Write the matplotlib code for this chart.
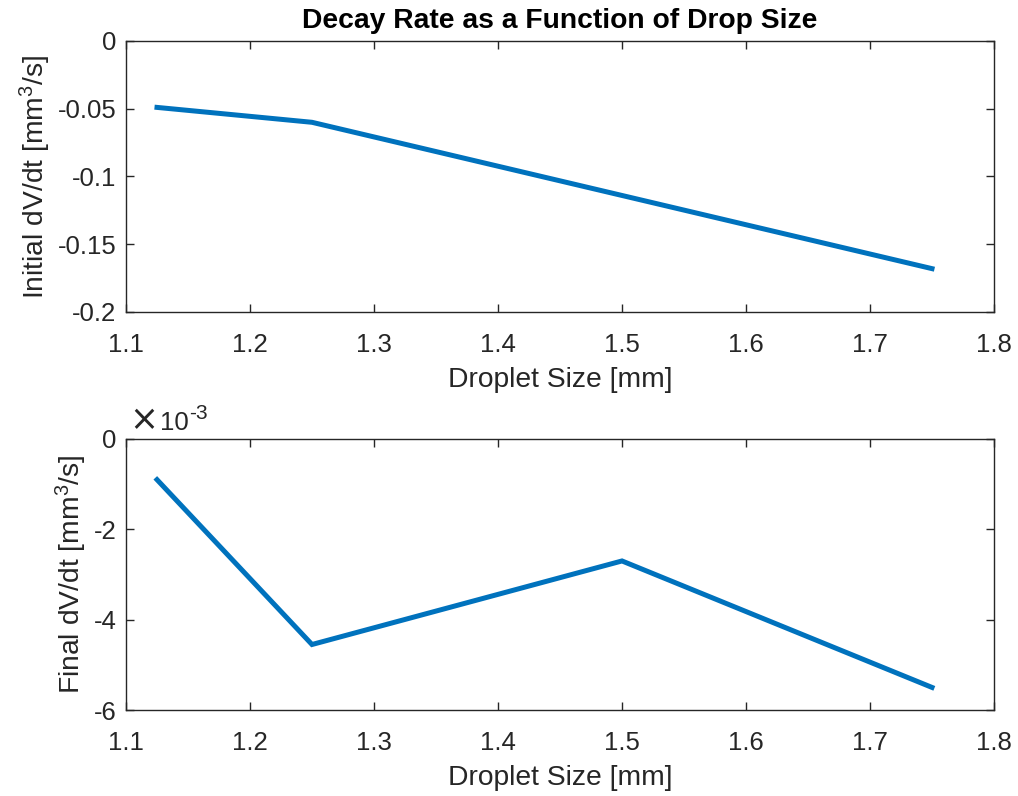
import matplotlib
matplotlib.use("Agg")
import matplotlib.pyplot as plt
from matplotlib.ticker import FuncFormatter

plt.rcParams["font.family"] = ["Liberation Sans", "DejaVu Sans"]
plt.rcParams["mathtext.fontset"] = "custom"
plt.rcParams["mathtext.rm"] = "Liberation Sans"
plt.rcParams["mathtext.it"] = "Liberation Sans:italic"
plt.rcParams["mathtext.bf"] = "Liberation Sans:bold"
plt.rcParams["axes.unicode_minus"] = False

# Droplet sizes and measured volume decay rates
droplet_size = [1.125, 1.25, 1.5, 1.75]
initial_rate = [-0.049, -0.060, -0.114, -0.168]
final_rate = [-0.90e-3, -4.55e-3, -2.70e-3, -5.50e-3]

x_ticks = [1.1, 1.2, 1.3, 1.4, 1.5, 1.6, 1.7, 1.8]
top_y_ticks = [-0.2, -0.15, -0.1, -0.05, 0]
bottom_y_ticks = [-6, -4, -2, 0]

line_color = "#0072BD"
axis_color = "#262626"
tick_fs = 18.5
label_fs = 20.3

fig = plt.figure(figsize=(10.18, 7.96), dpi=100)
ax1 = fig.add_axes([126 / 1018, 1 - 312 / 796, 868 / 1018, 271 / 796])
ax2 = fig.add_axes([126 / 1018, 1 - 710 / 796, 868 / 1018, 271 / 796])

fmt = FuncFormatter(lambda v, p: "%g" % round(v, 6))


def style(ax):
    ax.set_xlim(1.1, 1.8)
    ax.set_xticks(x_ticks)
    ax.xaxis.set_major_formatter(fmt)
    ax.yaxis.set_major_formatter(fmt)
    ax.tick_params(direction="in", top=True, right=True, length=6, width=1,
                   colors=axis_color, labelsize=tick_fs)
    ax.tick_params(axis="x", pad=15)
    ax.tick_params(axis="y", pad=7)
    for sp in ax.spines.values():
        sp.set_color(axis_color)
        sp.set_linewidth(1)
    ax.set_xlabel("Droplet Size [mm]", fontsize=label_fs, color=axis_color, labelpad=7)


ax1.plot(droplet_size, initial_rate, color=line_color, linewidth=3.6,
         solid_joinstyle="miter")
style(ax1)
ax1.set_ylim(-0.2, 0)
ax1.set_yticks(top_y_ticks)
ax1.set_ylabel("Initial dV/dt [mm$^3$/s]", fontsize=label_fs, color=axis_color, labelpad=3)
ax1.set_title("Decay Rate as a Function of Drop Size", fontsize=label_fs,
              fontweight="bold", color="black", pad=9)

ax2.plot(droplet_size, [v * 1e3 for v in final_rate], color=line_color,
         linewidth=3.6, solid_joinstyle="miter")
style(ax2)
ax2.set_ylim(-6, 0)
ax2.set_yticks(bottom_y_ticks)
ax2.set_ylabel("Final dV/dt [mm$^3$/s]", fontsize=label_fs, color=axis_color, labelpad=3)

# exponent marker for the lower y axis: "×10" followed by a raised "-3"
times = ax2.text(0.004, 1.008, "\u00d7", transform=ax2.transAxes,
                 fontsize=tick_fs * 1.35, color=axis_color,
                 family=["DejaVu Sans"], ha="left", va="bottom")
ten = ax2.annotate("10", xy=(1, 0), xycoords=times, xytext=(1, 1.5),
                   textcoords="offset points", fontsize=tick_fs,
                   color=axis_color, ha="left", va="bottom")
ax2.annotate("-3", xy=(1, 1), xycoords=ten, xytext=(0.5, 5),
             textcoords="offset points", fontsize=tick_fs * 0.82,
             color=axis_color, ha="left", va="top")

fig.savefig("out.png", dpi=100, facecolor="white")
